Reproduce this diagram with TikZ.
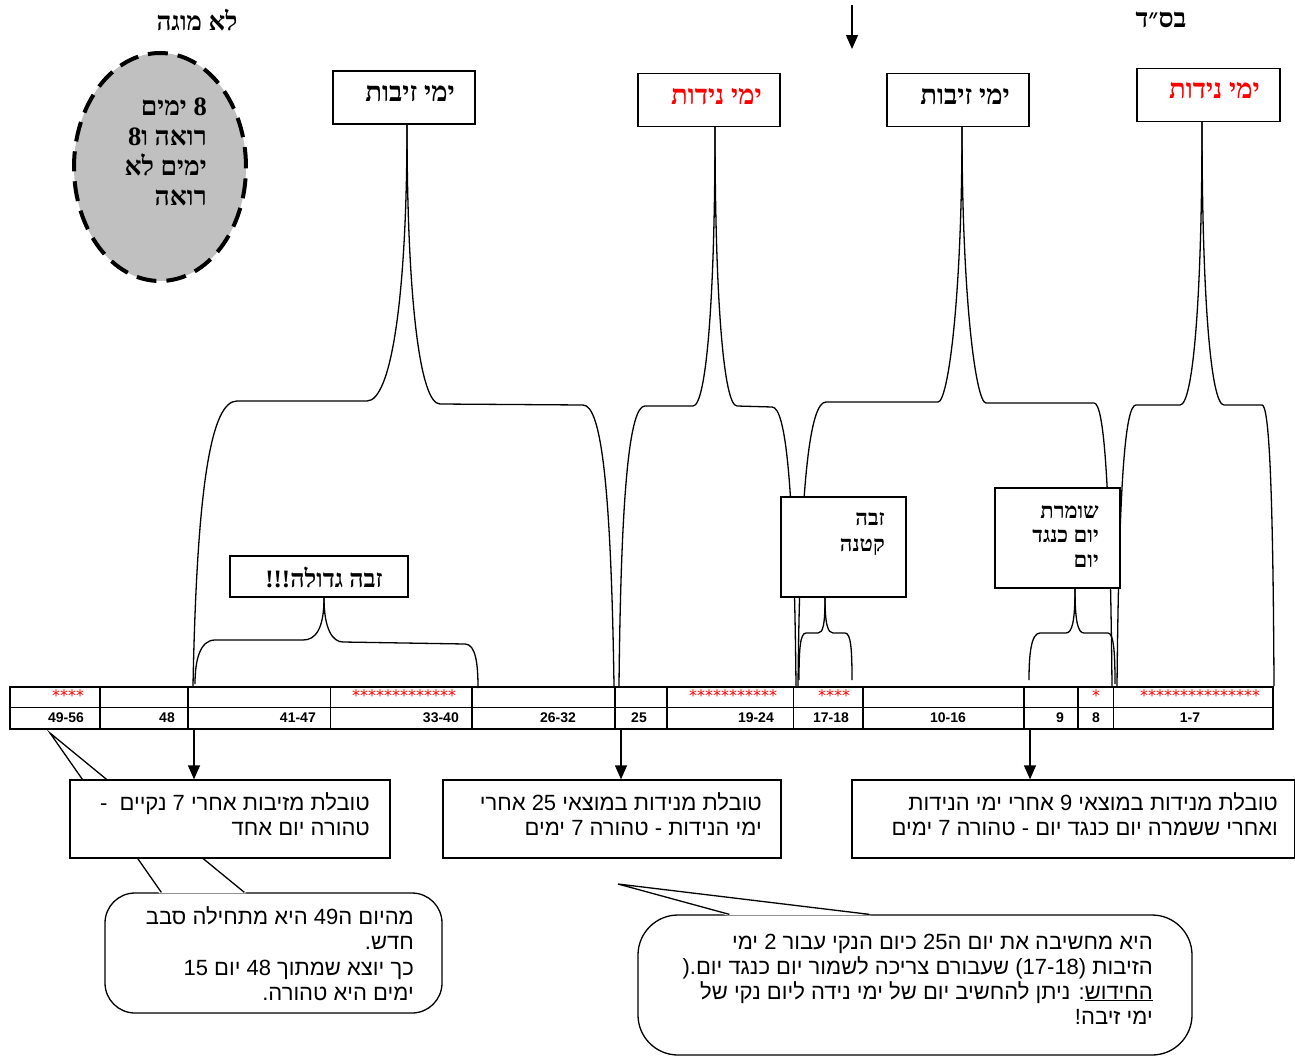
\documentclass[tikz,border=0pt]{standalone}
\usepackage{fontspec}
\usetikzlibrary{shapes.geometric,arrows.meta,calc}
\setmainfont{Liberation Serif}
\newfontfamily\hebserif[Script=Hebrew]{Liberation Serif}
\newfontfamily\hebsans[Script=Hebrew]{Liberation Sans}
\newfontfamily\numfont{Liberation Sans}
\newfontfamily\starfont{DejaVu Sans}
\TeXXeTstate=1
\newcommand\myR[1]{\beginR #1\endR}
\newcommand\myL[1]{\beginL #1\endL{}}
\definecolor{grayfill}{HTML}{C0C0C0}
\definecolor{hebred}{HTML}{FF0000}
\begin{document}
\begin{tikzpicture}[x=1pt,y=-1pt,
  brace/.style={line width=1.3pt},
  arr/.style={line width=1.3pt,-{Triangle[width=12pt,length=14pt]}},
  topbox/.style={draw,line width=1.3pt,fill=white,minimum width=142pt,minimum height=53pt,inner sep=0pt},
  toptxt/.style={font=\hebserif\bfseries\fontsize{27.5}{30}\selectfont,inner sep=0pt,anchor=east},
  smallbox/.style={draw,line width=1.3pt,fill=white,inner sep=0pt},
  smalltxt/.style={font=\hebserif\bfseries\fontsize{22}{25}\selectfont,inner sep=0pt,align=right,anchor=north east},
  bbox/.style={draw,line width=1.3pt,fill=white,inner sep=0pt,minimum height=78pt},
  btxt/.style={font=\hebsans\fontsize{22}{25}\selectfont,inner sep=0pt,align=right,anchor=north east},
  bubble/.style={draw,line width=1.3pt,fill=white,inner sep=0pt},
  numtxt/.style={font=\numfont\bfseries\fontsize{14}{16}\selectfont,inner sep=0pt},
  startxt/.style={font=\starfont\fontsize{16}{18}\selectfont,text=hebred,inner sep=0pt},
  thick1/.style={line width=1.5pt},
  thin1/.style={line width=0.8pt}
]
\useasboundingbox (0,0) rectangle (1295,1060);

% top texts and arrow
\node[font=\hebserif\bfseries\fontsize{26}{30}\selectfont,inner sep=0pt] (lomuga) at (197,20) {\myR{לא מוגה}};
\node[font=\hebserif\bfseries\fontsize{26.5}{30}\selectfont,inner sep=0pt] (bsd) at (1161,20) {\myR{בס״ד}};
\coordinate (topA) at (852,5);
\coordinate (topB) at (852,49);
\draw[arr] (topA) -- (topB);

% grey dashed ellipse
\node[ellipse,draw,fill=grayfill,line width=4pt,dash pattern=on 20pt off 10pt,minimum width=172pt,minimum height=228pt,inner sep=0pt] (circ) at (160,167) {};
\node[font=\hebserif\bfseries\fontsize{26.5}{30}\selectfont,inner sep=0pt,align=right,anchor=east] (circt) at (207,152)
  {\myR{\myL{8} ימים}\\\myR{רואה ו\myL{8}}\\\myR{ימים לא}\\\myR{רואה}};

% top label boxes
\node[topbox] (zb1) at (404,97.5) {};
\node[toptxt] (zb1t) at (455,94) {\myR{ימי זיבות}};
\node[topbox] (nd1) at (709,100) {};
\node[toptxt,text=hebred] (nd1t) at (762,97) {\myR{ימי נידות}};
\node[topbox] (zb2) at (958,100) {};
\node[toptxt] (zb2t) at (1010,97) {\myR{ימי זיבות}};
\node[topbox,minimum width=143pt] (nd2) at (1208.5,95) {};
\node[toptxt,text=hebred] (nd2t) at (1260,91) {\myR{ימי נידות}};

% brace end points on the table
\coordinate (b1l) at (193,686);
\coordinate (b1r) at (614,686);
\coordinate (b2l) at (619,686);
\coordinate (b2r) at (796,686);
\coordinate (b3l) at (798,686);
\coordinate (b3r) at (1112,686);
\coordinate (b4l) at (1117,686);
\coordinate (b4r) at (1274,686);

% big braces
\draw[brace] ([xshift=3pt]zb1.south) .. controls (407,299) and (391,401) .. (367,401) -- (237,401) .. controls (212,401) and (197,480) .. (b1l);
\draw[brace] ([xshift=3pt]zb1.south) .. controls (407,299) and (420,404) .. (440,404) -- (583,405) .. controls (601,405) and (611,484) .. (b1r);
\draw[brace] ([xshift=6pt]nd1.south) .. controls (715,303) and (706,406) .. (693,406) -- (645,406) .. controls (630,406) and (621,485) .. (b2l);
\draw[brace] ([xshift=6pt]nd1.south) .. controls (715,303) and (724,406) .. (737,406) -- (772,407) .. controls (786,407) and (794,486) .. (b2r);
\draw[brace] ([xshift=4pt]zb2.south) .. controls (962,300) and (948,402) .. (938,402) -- (826,402) .. controls (810,402) and (800,481) .. (b3l);
\draw[brace] ([xshift=4pt]zb2.south) .. controls (962,300) and (976,403) .. (986,403) -- (1094,403) .. controls (1104,403) and (1110,482) .. (b3r);
\draw[brace] ([xshift=-6.5pt]nd2.south) .. controls (1202,300) and (1193,405) .. (1180,405) -- (1136,405) .. controls (1125,405) and (1119,484) .. (b4l);
\draw[brace] ([xshift=-6.5pt]nd2.south) .. controls (1202,300) and (1211,405) .. (1224,405) -- (1262,405) .. controls (1269,405) and (1273,484) .. (b4r);

% small boxes
\node[smallbox,minimum width=125pt,minimum height=100pt] (zk) at (843.5,547) {};
\node[smalltxt,font=\hebserif\bfseries\fontsize{22}{26}\selectfont] (zkt) at (885,512) {\myR{זבה}\\\myR{קטנה}};
\node[smallbox,minimum width=125pt,minimum height=100pt] (sh) at (1057.5,538) {};
\node[smalltxt,font=\hebserif\bfseries\fontsize{22}{24.5}\selectfont] (sht) at (1099,505) {\myR{שומרת}\\\myR{יום כנגד}\\\myR{יום}};
\node[smallbox,minimum width=178pt,minimum height=41pt] (zg) at (319,576.5) {};
\node[font=\hebserif\bfseries\fontsize{25}{28}\selectfont,inner sep=0pt] (zgt) at (324,577) {\myR{זבה גדולה\myL{!!!}}};

% small brace end points
\coordinate (s1l) at (195,684);
\coordinate (s1r) at (478,688);
\coordinate (s2l) at (799,680);
\coordinate (s2r) at (852,680);
\coordinate (s3l) at (1029,680);
\coordinate (s3r) at (1115,684);

% small braces
\draw[brace] ([xshift=5pt]zg.south) .. controls (324,630) and (315,640) .. (303,640) -- (215,640) .. controls (200,640) and (195,660) .. (s1l);
\draw[brace] ([xshift=5pt]zg.south) .. controls (324,630) and (333,642) .. (343,642) -- (465,644) .. controls (476,644) and (478,665) .. (s1r);
\draw[brace] ([xshift=-18.5pt]zk.south) .. controls (825,625) and (823,633) .. (818,633) -- (806,633) .. controls (800,633) and (799,650) .. (s2l);
\draw[brace] ([xshift=-18.5pt]zk.south) .. controls (825,625) and (828,633) .. (833,633) -- (845,633) .. controls (851,633) and (852,650) .. (s2r);
\draw[brace] ([xshift=17.5pt]sh.south) .. controls (1075,622) and (1072,633) .. (1066,633) -- (1040,633) .. controls (1031,633) and (1029,655) .. (s3l);
\draw[brace] ([xshift=17.5pt]sh.south) .. controls (1075,622) and (1078,633) .. (1084,633) -- (1108,633) .. controls (1114,633) and (1115,655) .. (s3r);

% table
\draw[thin1] (10,707) -- (1273,707);
\foreach \xx in {100,188,472,615,667,863,1024,1078} {\draw[thick1] (\xx,687) -- (\xx,729);}
\foreach \xx in {330,793,1113} {\draw[line width=1pt] (\xx,687) -- (\xx,729);}
\draw[line width=1.8pt] (10,687) rectangle (1273,729);

\node[startxt] (st1) at (68,696) {****};
\node[startxt] (st2) at (404,696) {*************};
\node[startxt] (st3) at (733,696) {***********};
\node[startxt] (st4) at (834,696) {****};
\node[startxt] (st5) at (1096,696) {*};
\node[startxt] (st6) at (1200,696) {***************};

\node[numtxt] (c1) at (66,718) {49-56};
\node[numtxt,anchor=east] (c2) at (175,718) {48};
\node[numtxt,anchor=east] (c3) at (316,718) {41-47};
\node[numtxt,anchor=east] (c4) at (459,718) {33-40};
\node[numtxt] (c5) at (558,718) {26-32};
\node[numtxt] (c6) at (639,718) {25};
\node[numtxt,anchor=east] (c7) at (774,718) {19-24};
\node[numtxt] (c8) at (831,718) {17-18};
\node[numtxt] (c9) at (948,718) {10-16};
\node[numtxt] (c10) at (1060,718) {9};
\node[numtxt] (c11) at (1096,718) {8};
\node[numtxt] (c12) at (1190,718) {1-7};

% bubbles (behind bottom boxes)
\coordinate (p1) at (50,733);
\node[bubble,rounded corners=30pt,minimum width=337pt,minimum height=120pt] (bub1) at (273.5,953) {};
\fill[white] ([xshift=55pt,yshift=-1pt]bub1.north west) -- (p1) -- ([xshift=142pt,yshift=-1pt]bub1.north west) -- cycle;
\draw[line width=1.3pt] ([xshift=57pt]bub1.north west) -- (p1) -- ([xshift=140pt]bub1.north west);
\node[btxt,font=\hebsans\fontsize{22}{25.5}\selectfont] (bub1t) at (414,906)
  {\myR{מהיום ה\myL{49} היא מתחילה סבב}\\\myR{חדש\myL{.}}\\\myR{כך יוצא שמתוך \myL{48} יום \myL{15}}\\\myR{ימים היא טהורה\myL{.}}};

\coordinate (p2) at (618,884);
\node[bubble,rounded corners=40pt,minimum width=554pt,minimum height=140pt] (bub2) at (915,985) {};
\fill[white] ([xshift=90pt,yshift=-1pt]bub2.north west) -- (p2) -- ([xshift=234pt,yshift=-1pt]bub2.north west) -- cycle;
\draw[line width=1.3pt] ([xshift=92pt]bub2.north west) -- (p2) -- ([xshift=232pt]bub2.north west);
\node[btxt] (bub2t) at (1153,933.5)
  {\myR{היא מחשיבה את יום ה\myL{25} כיום הנקי עבור \myL{2} ימי}\\\myR{הזיבות \myL{(17-18)} שעבורם צריכה לשמור יום כנגד יום\myL{.(}}\\\myR{\underline{החידוש}\myL{:} ניתן להחשיב יום של ימי נידה ליום נקי של}\\\myR{ימי זיבה\myL{!}}};

% bottom boxes
\node[bbox,minimum width=320pt] (box1) at (230,819) {};
\node[btxt] (box1t) at (370,792) {\myR{טובלת מזיבות אחרי \myL{7} נקיים \ -}\\\myR{טהורה יום אחד}};
\node[bbox,minimum width=338pt] (box2) at (612,819) {};
\node[btxt] (box2t) at (762,792) {\myR{טובלת מנידות במוצאי \myL{25} אחרי}\\\myR{ימי הנידות - טהורה \myL{7} ימים}};
\node[bbox,minimum width=443pt] (box3) at (1073.5,819) {};
\node[btxt] (box3t) at (1278,792) {\myR{טובלת מנידות במוצאי \myL{9} אחרי ימי הנידות}\\\myR{ואחרי ששמרה יום כנגד יום - טהורה \myL{7} ימים}};

% arrows from table to boxes
\coordinate (t1) at (194,730);
\coordinate (t2) at (621,730);
\coordinate (t3) at (1030,730);
\draw[arr] (t1) -- (t1 |- box1.north);
\draw[arr] (t2) -- (t2 |- box2.north);
\draw[arr] (t3) -- (t3 |- box3.north);
\end{tikzpicture}
\end{document}
